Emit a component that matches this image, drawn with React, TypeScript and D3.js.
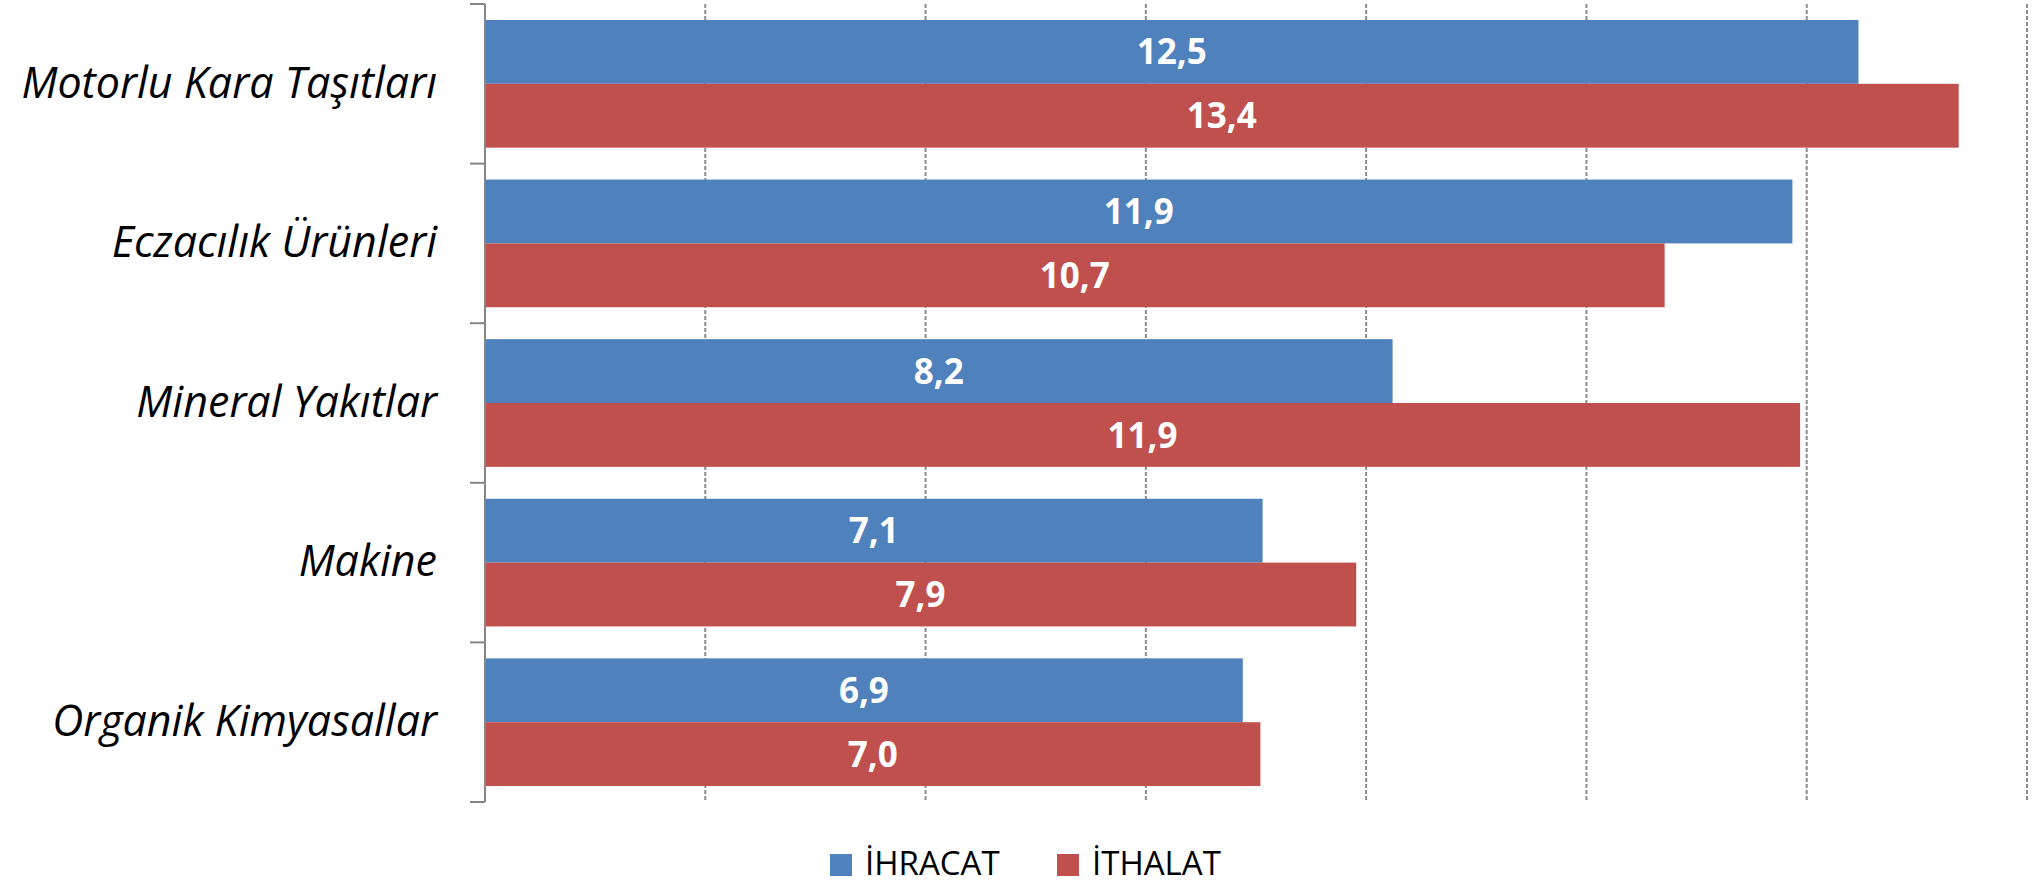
import React from "react";
import * as d3 from "d3";

const categories = [
  "Motorlu Kara Taşıtları",
  "Eczacılık Ürünleri",
  "Mineral Yakıtlar",
  "Makine",
  "Organik Kimyasallar",
];
const seriesNames = ["İHRACAT", "İTHALAT"];
// values (labels show them rounded to one decimal)
const ihracat = [12.47, 11.87, 8.24, 7.06, 6.88];
const ithalat = [13.38, 10.71, 11.94, 7.91, 7.04];
const xTicks = [0, 2, 4, 6, 8, 10, 12, 14];

const colors = ["#4F81BD", "#C0504D"];

const width = 2034;
const height = 885;
const marginTop = 4;
const marginBottom = 83;
const marginLeft = 485;
const marginRight = 7;

const App = () => {
  const x = d3
    .scaleLinear()
    .domain([0, 14])
    .range([marginLeft, width - marginRight]);

  const y = d3
    .scaleBand()
    .domain(categories)
    .range([marginTop, height - marginBottom])
    .paddingInner(0.2)
    .paddingOuter(0.1);

  const ySeries = d3
    .scaleBand()
    .domain(seriesNames)
    .range([0, y.bandwidth()]);

  const step = y.step();
  const plotTop = marginTop;
  const plotBottom = height - marginBottom;
  const boundaries = d3.range(categories.length + 1).map((i) => plotTop + i * step);

  const rows = categories.map((c, i) => ({
    category: c,
    values: [ihracat[i], ithalat[i]],
  }));

  const fmt = (v: number) => v.toFixed(1).replace(".", ",");

  return (
    <svg
      width={width}
      height={height}
      style={{ position: "absolute", left: 0, top: 0, background: "#fff" }}
    >
      {/* grid */}
      <g stroke="#8c8c8c" strokeWidth={2} strokeDasharray="4,2">
        {xTicks.slice(1).map((t) => (
          <line key={t} x1={x(t)} x2={x(t)} y1={plotTop} y2={plotBottom} />
        ))}
      </g>

      {/* bars */}
      {rows.map((r) => (
        <g key={r.category} transform={`translate(0,${y(r.category)})`}>
          {r.values.map((v, j) => (
            <rect
              key={j}
              x={x(0)}
              y={ySeries(seriesNames[j])}
              width={x(v) - x(0)}
              height={ySeries.bandwidth()}
              fill={colors[j]}
            />
          ))}
          {r.values.map((v, j) => (
            <text
              key={"t" + j}
              x={(x(0) + x(v)) / 2}
              y={Number(ySeries(seriesNames[j])) + ySeries.bandwidth() / 2}
              dy="0.36em"
              textAnchor="middle"
              fill="#fff"
              fontFamily="'Open Sans', sans-serif"
              fontWeight="bold"
              fontSize={35}
            >
              {fmt(v)}
            </text>
          ))}
        </g>
      ))}

      {/* left axis */}
      <g stroke="#868686" strokeWidth={2} fill="none">
        <line x1={marginLeft} x2={marginLeft} y1={plotTop} y2={plotBottom} />
        {boundaries.map((b, i) => (
          <line key={i} x1={marginLeft - 15} x2={marginLeft} y1={b} y2={b} />
        ))}
      </g>

      {/* category labels */}
      <g
        fontFamily="'Open Sans', sans-serif"
        fontStyle="italic"
        fontSize={43}
        fill="#000"
        textAnchor="end"
      >
        {categories.map((c) => (
          <text key={c} x={437} y={Number(y(c)) + y.bandwidth() / 2} dy="0.32em">
            {c}
          </text>
        ))}
      </g>

      {/* legend */}
      <g fontFamily="'Open Sans', sans-serif" fontSize={33} fill="#000">
        {seriesNames.map((s, i) => {
          const lx = 830 + i * 227;
          return (
            <g key={s}>
              <rect x={lx} y={854} width={22} height={22} fill={colors[i]} />
              <text x={lx + 35} y={875}>
                {s}
              </text>
            </g>
          );
        })}
      </g>
    </svg>
  );
};

export default App;
